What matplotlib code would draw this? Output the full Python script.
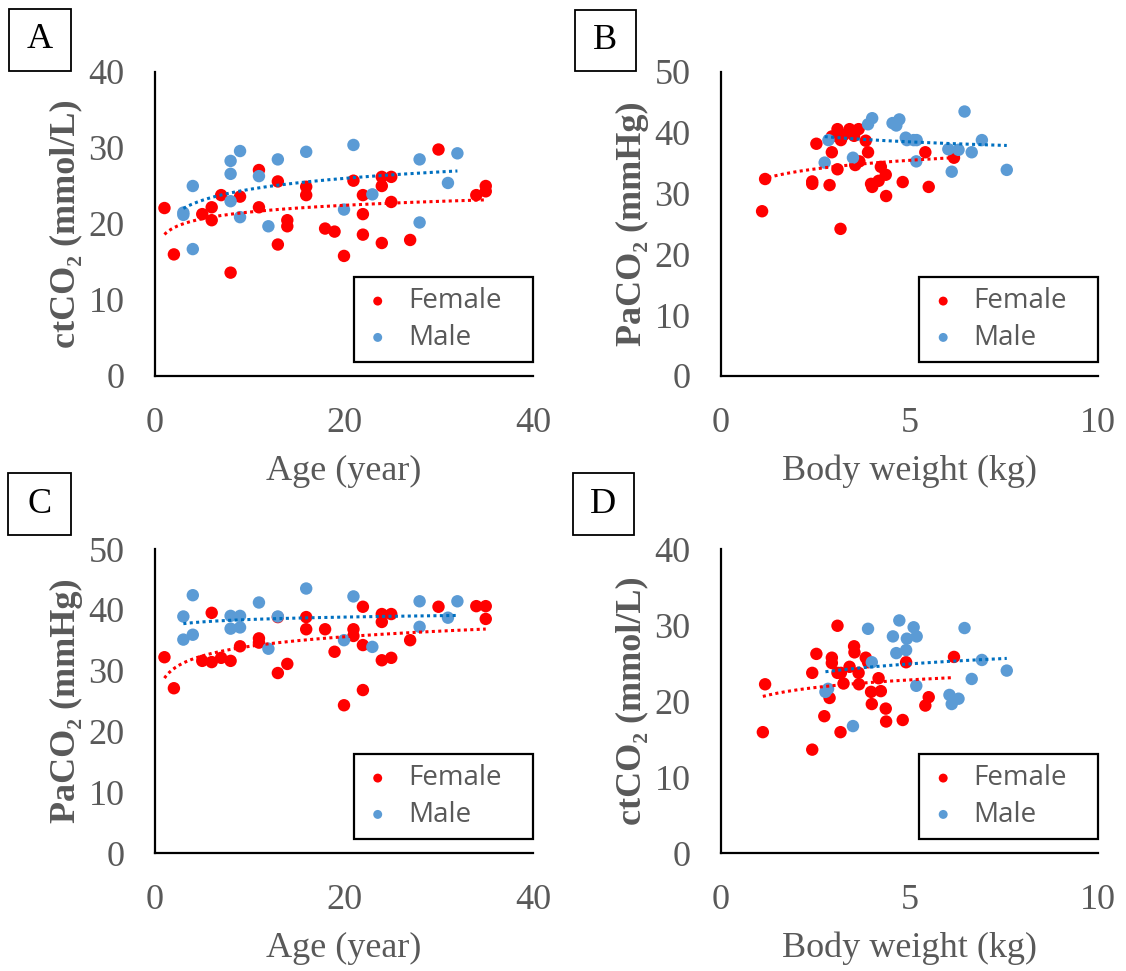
import numpy as np
import matplotlib
matplotlib.use("Agg")
import matplotlib.pyplot as plt
from matplotlib.patches import Rectangle

# ---------------- data ----------------
# Panel A: Age (year) vs ctCO2 (mmol/L)
a_f_x = [1, 2, 5, 6, 6, 7, 8, 9, 11, 11, 13, 13, 14, 14, 16, 16, 18, 19, 20, 21, 22, 22, 22, 24, 24, 24, 25, 25, 27, 30, 34, 35, 35]
a_f_y = [22.1, 16.0, 21.3, 22.2, 20.5, 23.8, 13.6, 23.6, 27.1, 22.2, 25.6, 17.3, 20.5, 19.7, 24.9, 23.8, 19.4, 19.0, 15.8, 25.7, 23.8, 21.3, 18.6, 26.2, 25.0, 17.5, 26.2, 22.9, 17.9, 29.8, 23.8, 25.0, 24.3]
a_m_x = [3, 3, 4, 4, 8, 8, 8, 9, 9, 11, 12, 13, 16, 20, 21, 23, 28, 28, 31, 32]
a_m_y = [21.5, 21.2, 25.0, 16.7, 28.3, 26.6, 23.0, 29.6, 20.9, 26.3, 19.7, 28.5, 29.5, 21.9, 30.4, 23.9, 28.5, 20.2, 25.4, 29.3]

# Panel B: Body weight (kg) vs PaCO2 (mmHg)
b_f_x = [1.09, 1.17, 2.42, 2.42, 2.53, 2.88, 2.94, 2.94, 3.09, 3.09, 3.17, 3.18, 3.25, 3.41, 3.53, 3.56, 3.65, 3.67, 3.84, 3.90, 3.98, 4.01, 4.18, 4.24, 4.37, 4.38, 4.82, 5.42, 5.51, 6.18]
b_f_y = [27.1, 32.4, 32.0, 31.6, 38.2, 31.4, 36.8, 39.4, 40.6, 34.0, 24.2, 38.8, 39.6, 40.6, 39.5, 34.7, 40.6, 35.3, 38.7, 36.8, 31.6, 31.1, 32.1, 34.4, 33.1, 29.6, 31.9, 36.8, 31.1, 35.9]
b_m_x = [2.75, 2.85, 3.50, 3.90, 4.01, 4.55, 4.65, 4.73, 4.90, 4.93, 5.11, 5.19, 5.18, 6.03, 6.12, 6.30, 6.46, 6.65, 6.92, 7.58]
b_m_y = [35.1, 38.8, 35.9, 41.4, 42.4, 41.6, 41.2, 42.2, 39.2, 38.8, 38.8, 38.8, 35.3, 37.3, 33.6, 37.2, 43.5, 36.8, 38.8, 33.9]

# Panel C: Age (year) vs PaCO2 (mmHg)
c_f_x = [1, 2, 5, 6, 6, 7, 8, 9, 11, 11, 13, 13, 14, 16, 16, 18, 19, 20, 21, 21, 22, 22, 22, 24, 24, 24, 25, 25, 27, 30, 34, 35, 35]
c_f_y = [32.2, 27.1, 31.6, 39.5, 31.4, 32.1, 31.6, 34.0, 35.3, 34.6, 29.6, 38.8, 31.1, 38.8, 36.8, 36.8, 33.1, 24.3, 36.8, 35.7, 40.5, 34.2, 26.8, 39.3, 38.0, 31.7, 39.3, 32.1, 35.0, 40.5, 40.6, 40.6, 38.5]
c_m_x = [3, 3, 4, 4, 8, 8, 9, 9, 11, 12, 13, 16, 20, 21, 23, 28, 28, 31, 32]
c_m_y = [38.9, 35.1, 42.4, 35.9, 39.0, 36.9, 39.0, 37.1, 41.2, 33.6, 38.9, 43.5, 35.0, 42.2, 33.9, 41.4, 37.2, 38.7, 41.4]

# Panel D: Body weight (kg) vs ctCO2 (mmol/L)
d_f_x = [1.11, 1.17, 2.42, 2.42, 2.53, 2.74, 2.88, 2.94, 2.94, 3.09, 3.09, 3.17, 3.18, 3.25, 3.41, 3.53, 3.54, 3.65, 3.66, 3.84, 3.90, 3.98, 4.00, 4.18, 4.24, 4.37, 4.38, 4.82, 4.91, 5.42, 5.51, 6.18]
d_f_y = [15.9, 22.2, 23.7, 13.6, 26.2, 18.0, 20.4, 25.7, 25.0, 29.9, 23.7, 15.9, 23.7, 22.3, 24.5, 27.2, 26.4, 23.7, 22.2, 25.7, 25.1, 21.2, 19.6, 23.0, 21.3, 19.0, 17.3, 17.5, 25.1, 19.4, 20.5, 25.8]
d_m_x = [2.77, 2.84, 3.50, 3.90, 4.00, 4.56, 4.65, 4.73, 4.91, 4.93, 5.11, 5.19, 5.18, 6.06, 6.12, 6.30, 6.46, 6.65, 6.92, 7.58]
d_m_y = [21.2, 21.6, 16.7, 29.5, 25.1, 28.5, 26.3, 30.6, 26.7, 28.2, 29.7, 28.5, 22.0, 20.8, 19.6, 20.3, 29.6, 22.9, 25.4, 24.0]

panel_letters = ["A", "B", "C", "D"]
x_labels = ["Age (year)", "Body weight (kg)", "Age (year)", "Body weight (kg)"]
y_labels = ["ctCO\u2082 (mmol/L)", "PaCO\u2082 (mmHg)", "PaCO\u2082 (mmHg)", "ctCO\u2082 (mmol/L)"]
x_limits = [(0, 40), (0, 10), (0, 40), (0, 10)]
y_limits = [(0, 40), (0, 50), (0, 50), (0, 40)]
x_steps = [20, 5, 20, 5]
y_steps = [10, 10, 10, 10]
series_labels = ["Female", "Male"]

# ---------------- style ----------------
W, H = 1126, 971
FEMALE = "#FF0000"
MALE = "#5B9BD5"
FEMALE_TREND = "#FF0000"
MALE_TREND = "#0070C0"
GRAY = "#595959"
SERIF = ["Liberation Serif", "DejaVu Serif"]

fig = plt.figure(figsize=(W / 100, H / 100), dpi=100)

# axes rectangles in pixels (left, top, right, bottom)
rects = [(155, 72, 533, 376), (721, 72, 1098, 376),
         (155, 549, 533, 853), (721, 549, 1098, 853)]
letter_boxes = [(9, 9, 71, 71), (575, 10, 636, 71),
                (8, 473, 71, 535), (573, 473, 634, 535)]

data = [
    (a_f_x, a_f_y, a_m_x, a_m_y),
    (b_f_x, b_f_y, b_m_x, b_m_y),
    (c_f_x, c_f_y, c_m_x, c_m_y),
    (d_f_x, d_f_y, d_m_x, d_m_y),
]


def log_trend(ax, xs, ys, color):
    xs = np.asarray(xs, float)
    ys = np.asarray(ys, float)
    a, b = np.polyfit(np.log(xs), ys, 1)
    xx = np.linspace(xs.min(), xs.max(), 200)
    ax.plot(xx, a * np.log(xx) + b, color=color, lw=2.2,
            linestyle=(0, (1, 1.1)), zorder=4)


for i in range(4):
    l, t, r, b = rects[i]
    ax = fig.add_axes([l / W, 1 - b / H, (r - l) / W, (b - t) / H])
    fx, fy, mx, my = data[i]
    ax.scatter(fx, fy, s=80, color=FEMALE, edgecolors="none", zorder=2,
               label=series_labels[0])
    ax.scatter(mx, my, s=80, color=MALE, edgecolors="none", zorder=3,
               label=series_labels[1])
    log_trend(ax, fx, fy, FEMALE_TREND)
    log_trend(ax, mx, my, MALE_TREND)

    ax.set_xlim(*x_limits[i])
    ax.set_ylim(*y_limits[i])
    ax.set_xticks(np.arange(x_limits[i][0], x_limits[i][1] + 0.1, x_steps[i]))
    ax.set_yticks(np.arange(y_limits[i][0], y_limits[i][1] + 0.1, y_steps[i]))
    for s in ["top", "right"]:
        ax.spines[s].set_visible(False)
    for s in ["left", "bottom"]:
        ax.spines[s].set_linewidth(1.6)
        ax.spines[s].set_color("black")
    ax.tick_params(axis="both", length=0, labelsize=26, labelcolor=GRAY)
    ax.tick_params(axis="x", pad=22)
    ax.tick_params(axis="y", pad=22)
    for lab in ax.get_xticklabels() + ax.get_yticklabels():
        lab.set_family(SERIF)
    ax.set_xlabel(x_labels[i], family=SERIF, fontsize=26, color=GRAY, labelpad=11)
    ax.set_ylabel(y_labels[i], family=SERIF, fontsize=26, color=GRAY,
                  fontweight="bold", labelpad=4)

    leg = ax.legend(loc="lower left", bbox_to_anchor=(0.526, 0.047, 0.474, 0.27),
                    mode="expand", borderaxespad=0, fancybox=False,
                    frameon=True, edgecolor="black", framealpha=1,
                    prop={"family": "Open Sans", "size": 20},
                    labelcolor=GRAY, markerscale=0.72, handlelength=1.0,
                    handletextpad=0.6, labelspacing=0.3, borderpad=0.36)
    leg.get_frame().set_linewidth(1.6)

    # panel letter box
    bl, bt, br, bb = letter_boxes[i]
    fig.add_artist(Rectangle((bl / W, 1 - bb / H), (br - bl) / W, (bb - bt) / H,
                             transform=fig.transFigure, facecolor="white",
                             edgecolor="black", lw=1.3))
    fig.text((bl + br) / 2 / W, 1 - (bt + bb) / 2 / H, panel_letters[i],
             ha="center", va="center", fontsize=26, family=SERIF, color="black")

fig.savefig("out.png", dpi=100)
